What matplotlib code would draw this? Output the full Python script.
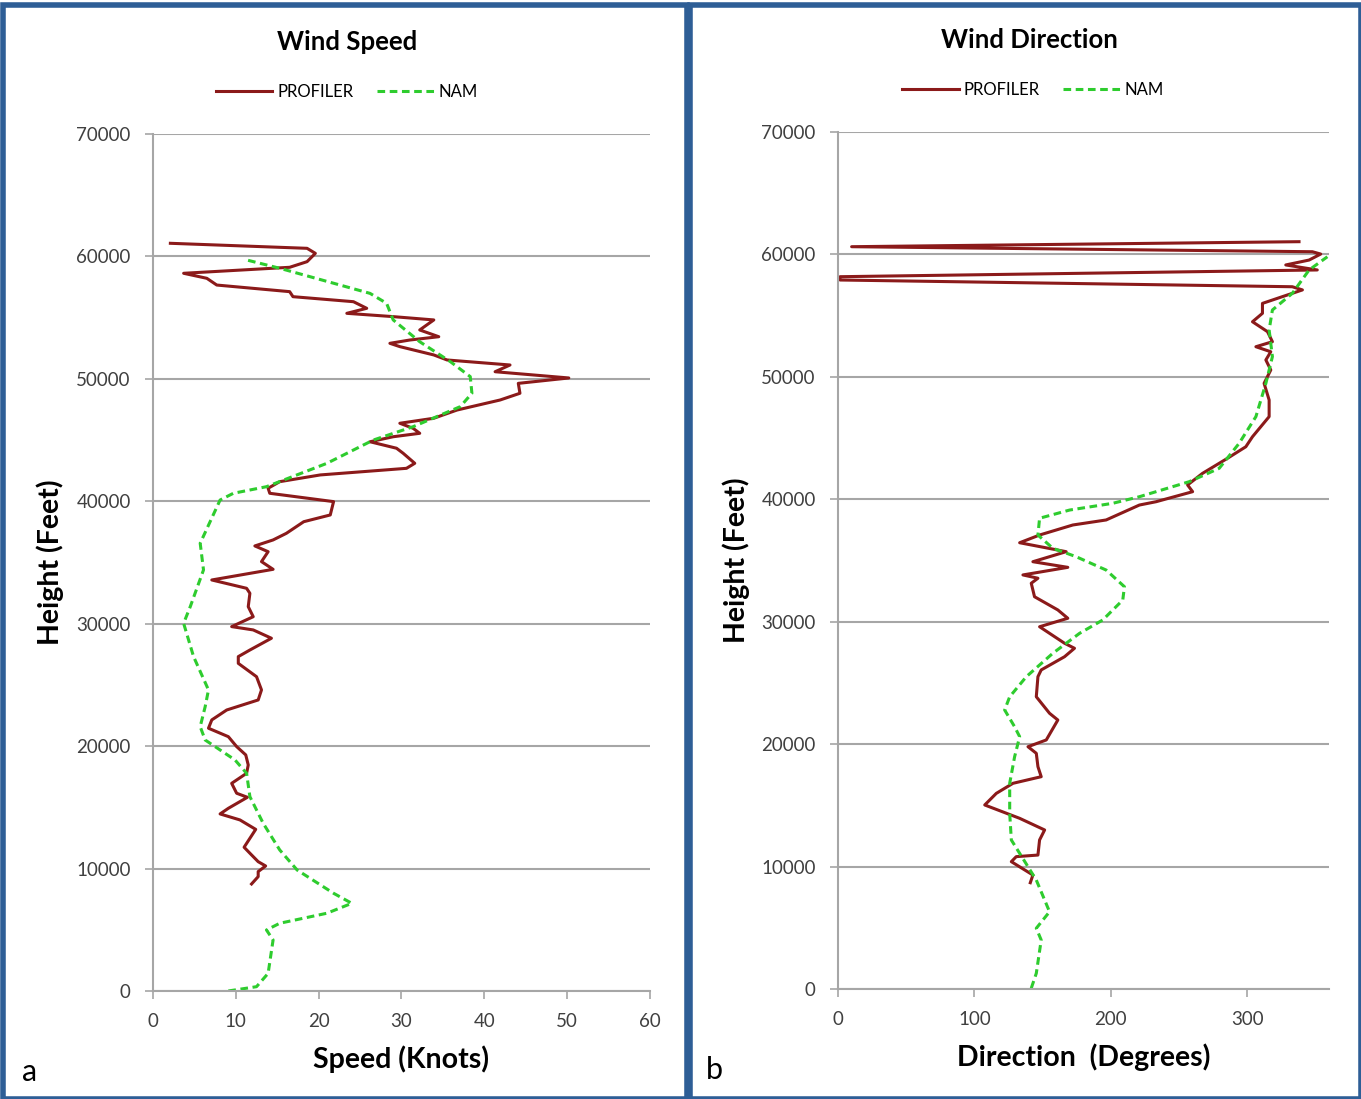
import matplotlib.pyplot as plt
from matplotlib.patches import Rectangle

plt.rcParams["font.family"] = ["Lato", "DejaVu Sans"]

# wind speed, profiler (knots, feet)
spd_prof = [11.9, 12.7, 12.7, 13.6, 12.7, 11.7, 11.0, 11.7, 12.4, 10.5, 8.1, 9.1, 11.4, 10.1,
            9.5, 11.3, 11.5, 11.2, 10.1, 9.1, 6.7, 7.1, 8.9, 12.7, 13.1, 12.5, 10.3, 10.3,
            11.7, 14.3, 12.1, 9.5, 12.1, 11.5, 11.7, 11.3, 7.1, 14.5, 13.1, 13.9, 12.3, 14.5,
            16.1, 18.2, 21.4, 21.8, 14.1, 13.9, 15.3, 20.2, 30.6, 31.6, 30.2, 29.4, 26.2,
            29.0, 32.2, 31.4, 29.8, 33.9, 36.7, 41.9, 44.3, 44.1, 50.2, 41.3, 43.1, 35.5,
            33.9, 29.8, 28.6, 31.0, 34.5, 32.2, 33.9, 29.0, 23.4, 25.8, 24.2, 16.9, 16.5,
            7.7, 6.5, 3.7, 16.5, 18.6, 19.6, 18.6, 2.1]
hgt_spd_prof = [8740, 9340, 9750, 10210, 10560, 11250, 11740, 12470, 13200, 13970, 14460,
                14920, 15820, 16150, 16960, 17780, 18460, 19280, 19960, 20770, 21460, 22140,
                22950, 23770, 24590, 25670, 26760, 27310, 27850, 28810, 29490, 29760, 30570,
                31390, 32480, 32890, 33570, 34440, 35070, 35880, 36350, 36840, 37380, 38330,
                38880, 39970, 40650, 41060, 41600, 42150, 42690, 43100, 43920, 44330, 44860,
                45270, 45550, 45960, 46370, 46780, 47450, 48270, 48820, 49630, 50070, 50580,
                51130, 51540, 51950, 52630, 52900, 53170, 53440, 53990, 54810, 55080, 55350,
                55760, 56300, 56710, 57120, 57660, 58210, 58620, 59110, 59570, 60250, 60660,
                61070]

# wind speed, NAM
spd_nam = [9.1, 12.5, 13.9, 14.5, 13.7, 15.3, 21.0, 24.0, 21.8, 17.4, 15.3, 13.3, 11.7, 11.3,
           9.9, 6.3, 5.7, 6.3, 6.7, 4.9, 3.7, 4.5, 6.1, 5.7, 8.1, 9.7, 13.7, 21.0, 26.6,
           31.4, 37.1, 38.5, 38.3, 35.9, 32.2, 29.0, 28.2, 26.2, 15.3, 11.3]
hgt_spd_nam = [0, 350, 1440, 4170, 4980, 5530, 6350, 7160, 7980, 9880, 11520, 13700, 15870,
               17780, 18870, 20500, 21590, 23220, 24590, 27310, 30030, 31390, 34390, 36570,
               40100, 40650, 41190, 43100, 45000, 46090, 47730, 48820, 50180, 51400, 53030,
               54810, 56170, 56980, 59030, 59710]

# wind direction, profiler (degrees, feet)
dir_prof = [141.0, 142.9, 127.1, 130.7, 146.6, 147.8, 151.5, 133.2, 107.6, 116.1, 128.3,
            149.0, 146.6, 145.4, 139.3, 152.7, 161.2, 155.1, 145.4, 146.6, 149.0, 166.1,
            173.4, 166.1, 147.8, 168.5, 161.2, 144.1, 141.7, 146.6, 135.6, 168.5, 142.9,
            167.3, 133.2, 147.8, 172.2, 196.6, 221.0, 233.2, 260.0, 256.3, 267.3, 285.6,
            299.0, 303.9, 316.1, 316.1, 312.4, 317.3, 313.7, 317.3, 306.4, 318.5, 314.9,
            303.9, 311.2, 311.2, 325.8, 340.5, 333.1, 1.5, 1.5, 351.4, 328.3, 345.4, 353.9,
            347.8, 10.0, 338.0]
hgt_dir_prof = [8680, 9310, 10400, 10810, 10940, 12170, 12990, 13940, 15030, 15980, 16800,
                17340, 18160, 19250, 19790, 20340, 21970, 22520, 23870, 25510, 26060, 27140,
                27830, 28240, 29590, 30280, 30960, 32040, 33140, 33550, 33820, 34440, 34900,
                35720, 36450, 37080, 37900, 38310, 39530, 39800, 40620, 41170, 42120, 43350,
                44290, 45110, 46750, 48110, 49470, 50560, 51380, 52050, 52460, 52870, 53690,
                54500, 55190, 56000, 56550, 57100, 57360, 57910, 58180, 58730, 59140, 59540,
                60030, 60220, 60630, 61040]

# wind direction, NAM
dir_nam = [141.7, 145.4, 149.0, 145.4, 155.1, 145.4, 133.2, 127.1, 125.9, 125.9, 129.5,
           133.2, 129.5, 122.2, 125.9, 138.1, 157.5, 177.1, 194.1, 208.8, 210.0, 196.6,
           174.6, 157.5, 146.6, 147.8, 169.8, 201.4, 221.0, 257.6, 279.5, 294.1, 306.4,
           313.7, 318.5, 316.1, 318.5, 333.1, 345.4, 358.8]
hgt_dir_nam = [60, 1280, 4000, 4960, 6310, 8900, 11080, 12170, 14350, 16800, 18970, 20610,
               21420, 22790, 23870, 25510, 27420, 29050, 30140, 31770, 32860, 34220, 35310,
               36000, 37080, 38450, 39120, 39670, 40210, 41440, 42530, 44570, 46750, 49470,
               51650, 53830, 55460, 56820, 58730, 59810]

prof_color = "#8B1A1A"
nam_color = "#2ECC2E"
grid_color = "#A6A6A6"
blue = "#2E5E96"

fig = plt.figure(figsize=(13.61, 10.99), dpi=100)

# panel frames
fig.patches.append(Rectangle((0.002, 0.0), 0.503, 0.995, transform=fig.transFigure,
                             fill=False, edgecolor=blue, linewidth=4, zorder=0))
fig.patches.append(Rectangle((0.507, 0.0), 0.493, 0.995, transform=fig.transFigure,
                             fill=False, edgecolor=blue, linewidth=4, zorder=0))

ax1 = fig.add_axes([0.1124, 0.0983, 0.3652, 0.7798])
ax2 = fig.add_axes([0.6157, 0.1001, 0.3608, 0.7798])


def style(ax, xmax, xticks, title, xlabel, legx):
    ax.set_xlim(0, xmax)
    ax.set_ylim(0, 70000)
    ax.set_xticks(xticks)
    ax.set_yticks(range(0, 70001, 10000))
    for s in ["top", "right"]:
        ax.spines[s].set_visible(False)
    for s in ["left", "bottom"]:
        ax.spines[s].set_color(grid_color)
        ax.spines[s].set_linewidth(1.5)
    ax.yaxis.grid(True, color=grid_color, linewidth=1.5)
    ax.set_axisbelow(True)
    ax.tick_params(axis="both", colors=grid_color, length=6, width=1.2,
                   labelcolor="#404040", labelsize=13.5)
    ax.tick_params(axis="y", pad=10)
    ax.tick_params(axis="x", pad=10)
    ax.set_xlabel(xlabel, fontsize=20.5, fontweight="bold")
    ax.set_ylabel("Height (Feet)", fontsize=20.5, fontweight="bold")
    ax.xaxis.set_label_coords(0.5, -0.064)
    ax.yaxis.set_label_coords(-0.18, 0.5)
    ax.text(0.39, 1.107, title, transform=ax.transAxes, ha="center", va="center",
            fontsize=18.5, fontweight="bold")
    ax.legend(loc="center", bbox_to_anchor=(legx, 1.049), ncol=2, frameon=False,
              fontsize=12, handlelength=3.4, columnspacing=1.4, handletextpad=0.3)


ax1.plot(spd_prof, hgt_spd_prof, color=prof_color, lw=2.2, label="PROFILER",
         solid_joinstyle="round")
ax1.plot(spd_nam, hgt_spd_nam, color=nam_color, lw=2.2, ls=(0, (2.5, 1.5)), label="NAM")
style(ax1, 60, range(0, 61, 10), "Wind Speed", "Speed (Knots)", 0.39)

ax2.plot(dir_prof, hgt_dir_prof, color=prof_color, lw=2.2, label="PROFILER",
         solid_joinstyle="round")
ax2.plot(dir_nam, hgt_dir_nam, color=nam_color, lw=2.2, ls=(0, (2.5, 1.5)), label="NAM")
style(ax2, 360, [0, 100, 200, 300], "Wind Direction", "Direction  (Degrees)", 0.397)

fig.text(0.016, 0.016, "a", fontsize=22)
fig.text(0.519, 0.018, "b", fontsize=22)

fig.savefig("out.png", dpi=100)
